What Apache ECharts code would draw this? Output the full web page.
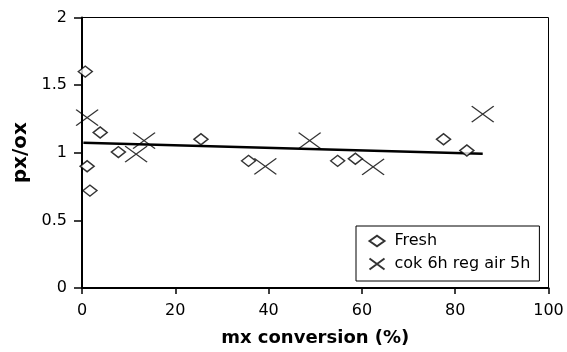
<!DOCTYPE html>
<html>
<head>
<meta charset="utf-8">
<script src="https://cdn.jsdelivr.net/npm/echarts@6/dist/echarts.min.js"></script>
<style>html,body{margin:0;padding:0;background:#fff}#c{width:567px;height:352px}</style>
</head>
<body>
<div id="c"></div>
<script>
const seriesNames = ["Fresh", "cok 6h reg air 5h"];
const freshData = [[0.7,1.60],[1.1,0.90],[1.7,0.72],[3.9,1.15],[7.8,1.005],[25.5,1.10],[35.7,0.94],[54.8,0.94],[58.6,0.956],[77.5,1.10],[82.5,1.017]];
const cokData = [[1.1,1.26],[11.6,0.99],[13.3,1.09],[39.3,0.90],[48.8,1.09],[62.4,0.895],[85.9,1.285]];
const trendData = [[0.3,1.074],[85.9,0.993]];
const xTitle = "mx conversion (%)";
const yTitle = "px/ox";

const FONT = "DejaVu Sans, sans-serif";
const diamond = 'path://M0,5 L7,0 L14,5 L7,10 Z';
const cross = 'path://M0,0 L22,16 M0,16 L22,0';

const chart = echarts.init(document.getElementById('c'), null, {renderer:'canvas'});
chart.setOption({
  animation: false,
  backgroundColor: '#fff',
  grid: {left: 82, right: 18.5, top: 17.5, bottom: 61.5, show: true, borderColor: '#000', borderWidth: 1, backgroundColor: 'transparent'},
  xAxis: {
    type: 'value', min: 0, max: 100, interval: 20,
    name: xTitle, nameLocation: 'middle', nameGap: 41,
    nameTextStyle: {fontFamily: FONT, fontSize: 18, fontWeight: 'bold', color: '#000'},
    axisLine: {show: true, lineStyle: {color: '#000', width: 2}},
    axisTick: {show: true, length: 6, lineStyle: {color: '#000', width: 1.5}},
    axisLabel: {fontFamily: FONT, fontSize: 16, color: '#000', margin: 15},
    splitLine: {show: false}
  },
  yAxis: {
    type: 'value', min: 0, max: 2, interval: 0.5,
    name: yTitle, nameLocation: 'middle', nameGap: 50,
    nameTextStyle: {fontFamily: FONT, fontSize: 20, fontWeight: 'bold', color: '#000'},
    axisLine: {show: true, lineStyle: {color: '#000', width: 2}},
    axisTick: {show: true, length: 8, lineStyle: {color: '#000', width: 1.5}},
    axisLabel: {fontFamily: FONT, fontSize: 16, color: '#000', margin: 15},
    splitLine: {show: false}
  },
  legend: {
    data: seriesNames,
    orient: 'vertical',
    left: 356, top: 226,
    padding: [7, 9, 9, 11],
    borderColor: '#000', borderWidth: 1,
    backgroundColor: '#fff',
    itemWidth: 15, itemHeight: 12, itemGap: 7,
    textStyle: {fontFamily: FONT, fontSize: 16, color: '#000', lineHeight: 16, padding: [0,0,0,5]}
  },
  series: [
    {
      name: seriesNames[0], type: 'scatter', data: freshData,
      symbol: diamond, symbolSize: [14, 11],
      itemStyle: {color: '#fff', borderColor: '#000', borderWidth: 1.5},
      z: 3
    },
    {
      name: seriesNames[1], type: 'scatter', data: cokData,
      symbol: cross, symbolSize: [22, 16],
      itemStyle: {color: 'none', borderColor: '#000', borderWidth: 1.3},
      z: 3
    },
    {
      name: 'trend', type: 'line', data: trendData,
      symbol: 'none', lineStyle: {color: '#000', width: 2.5},
      z: 2
    }
  ]
});
</script>
</body>
</html>
